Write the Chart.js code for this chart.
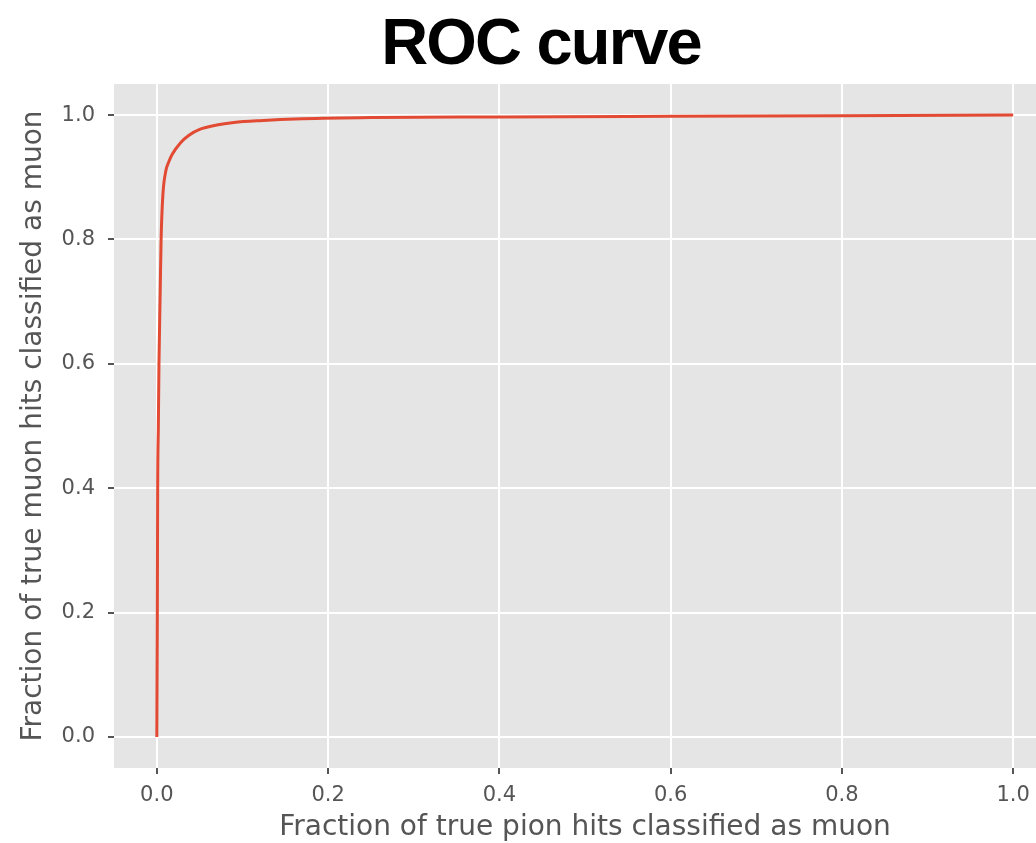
<!DOCTYPE html>
<html>
<head>
<meta charset="utf-8">
<title>ROC curve</title>
<script src="https://cdn.jsdelivr.net/npm/chart.js@4"></script>
<style>
  html, body { margin: 0; padding: 0; background: #fff; }
  #wrap { width: 1036px; height: 843px; overflow: hidden; position: relative; }
  canvas { display: block; }
</style>
</head>
<body>
<div id="wrap"><canvas id="roc" width="1082" height="843"></canvas></div>
<script>
// false positive rate (pions tagged as muons)
const fpr = [0, 0.0003, 0.0006, 0.001, 0.0018, 0.0025, 0.004, 0.005, 0.007, 0.0105,
  0.014, 0.018, 0.028, 0.038, 0.05, 0.07, 0.09, 0.12, 0.17, 0.25, 0.4, 0.6, 0.8, 1.0];
// true positive rate (muons tagged as muons)
const tpr = [0, 0.1, 0.2, 0.4, 0.5, 0.6, 0.72, 0.8, 0.87, 0.91,
  0.925, 0.937, 0.956, 0.968, 0.977, 0.984, 0.988, 0.991, 0.994, 0.996, 0.997, 0.998, 0.999, 1.0];

const xTicks = [0, 0.2, 0.4, 0.6, 0.8, 1.0];
const yTicks = [0, 0.2, 0.4, 0.6, 0.8, 1.0];

const chartTitle = "ROC curve";
const xLabel = "Fraction of true pion hits classified as muon";
const yLabel = "Fraction of true muon hits classified as muon";

const points = fpr.map((x, i) => ({ x: x, y: tpr[i] }));

// grey panel behind the plot, ggplot style
const panelBg = {
  id: "panelBg",
  beforeDraw(chart) {
    const { ctx, chartArea: a } = chart;
    ctx.save();
    ctx.fillStyle = "#e5e5e5";
    ctx.fillRect(a.left, a.top, a.right - a.left, a.bottom - a.top);
    ctx.restore();
  },
};

// big bold heading, slightly tight tracking
const heading = {
  id: "heading",
  afterDraw(chart) {
    const ctx = chart.ctx;
    ctx.save();
    ctx.font = "bold 65px 'Liberation Sans', Arial, sans-serif";
    ctx.letterSpacing = "-1.8px";
    ctx.fillStyle = "#000";
    ctx.textAlign = "center";
    ctx.textBaseline = "alphabetic";
    ctx.fillText(chartTitle, 541, 64);
    ctx.restore();
  },
};

const tickFont = { family: "'DejaVu Sans', sans-serif", size: 21 };
const labelFont = { family: "'DejaVu Sans', sans-serif", size: 28, lineHeight: 1 };

new Chart(document.getElementById("roc"), {
  type: "line",
  data: {
    datasets: [
      {
        data: points,
        borderColor: "#e24a33",
        borderWidth: 3,
        pointRadius: 0,
        fill: false,
        cubicInterpolationMode: "monotone",
      },
    ],
  },
  options: {
    responsive: false,
    animation: false,
    layout: { padding: { top: 84, right: 26, left: 0, bottom: 0 } },
    plugins: {
      legend: { display: false },
      title: { display: false },
      tooltip: { enabled: false },
    },
    scales: {
      x: {
        type: "linear",
        min: -0.05,
        max: 1.05,
        afterBuildTicks: (s) => { s.ticks = xTicks.map((v) => ({ value: v })); },
        afterFit: (s) => { s.height = 75; },
        grid: { color: "#ffffff", lineWidth: 2, tickColor: "#555555", tickLength: 6 },
        border: { display: false },
        ticks: {
          color: "#555555",
          font: tickFont,
          padding: 9,
          maxRotation: 0,
          callback: (v) => v.toFixed(1),
        },
        title: {
          display: true,
          text: xLabel,
          color: "#555555",
          font: labelFont,
          padding: { top: 0, bottom: 1 },
        },
      },
      y: {
        type: "linear",
        min: -0.05,
        max: 1.05,
        afterBuildTicks: (s) => { s.ticks = yTicks.map((v) => ({ value: v })); },
        afterFit: (s) => { s.width = 114; },
        grid: { color: "#ffffff", lineWidth: 2, tickColor: "#555555", tickLength: 6 },
        border: { display: false },
        ticks: {
          color: "#555555",
          font: tickFont,
          padding: 13,
          callback: (v) => v.toFixed(1),
        },
        title: {
          display: true,
          text: yLabel,
          color: "#555555",
          font: labelFont,
          padding: { top: 20, bottom: 0 },
        },
      },
    },
  },
  plugins: [panelBg, heading],
});
</script>
</body>
</html>
